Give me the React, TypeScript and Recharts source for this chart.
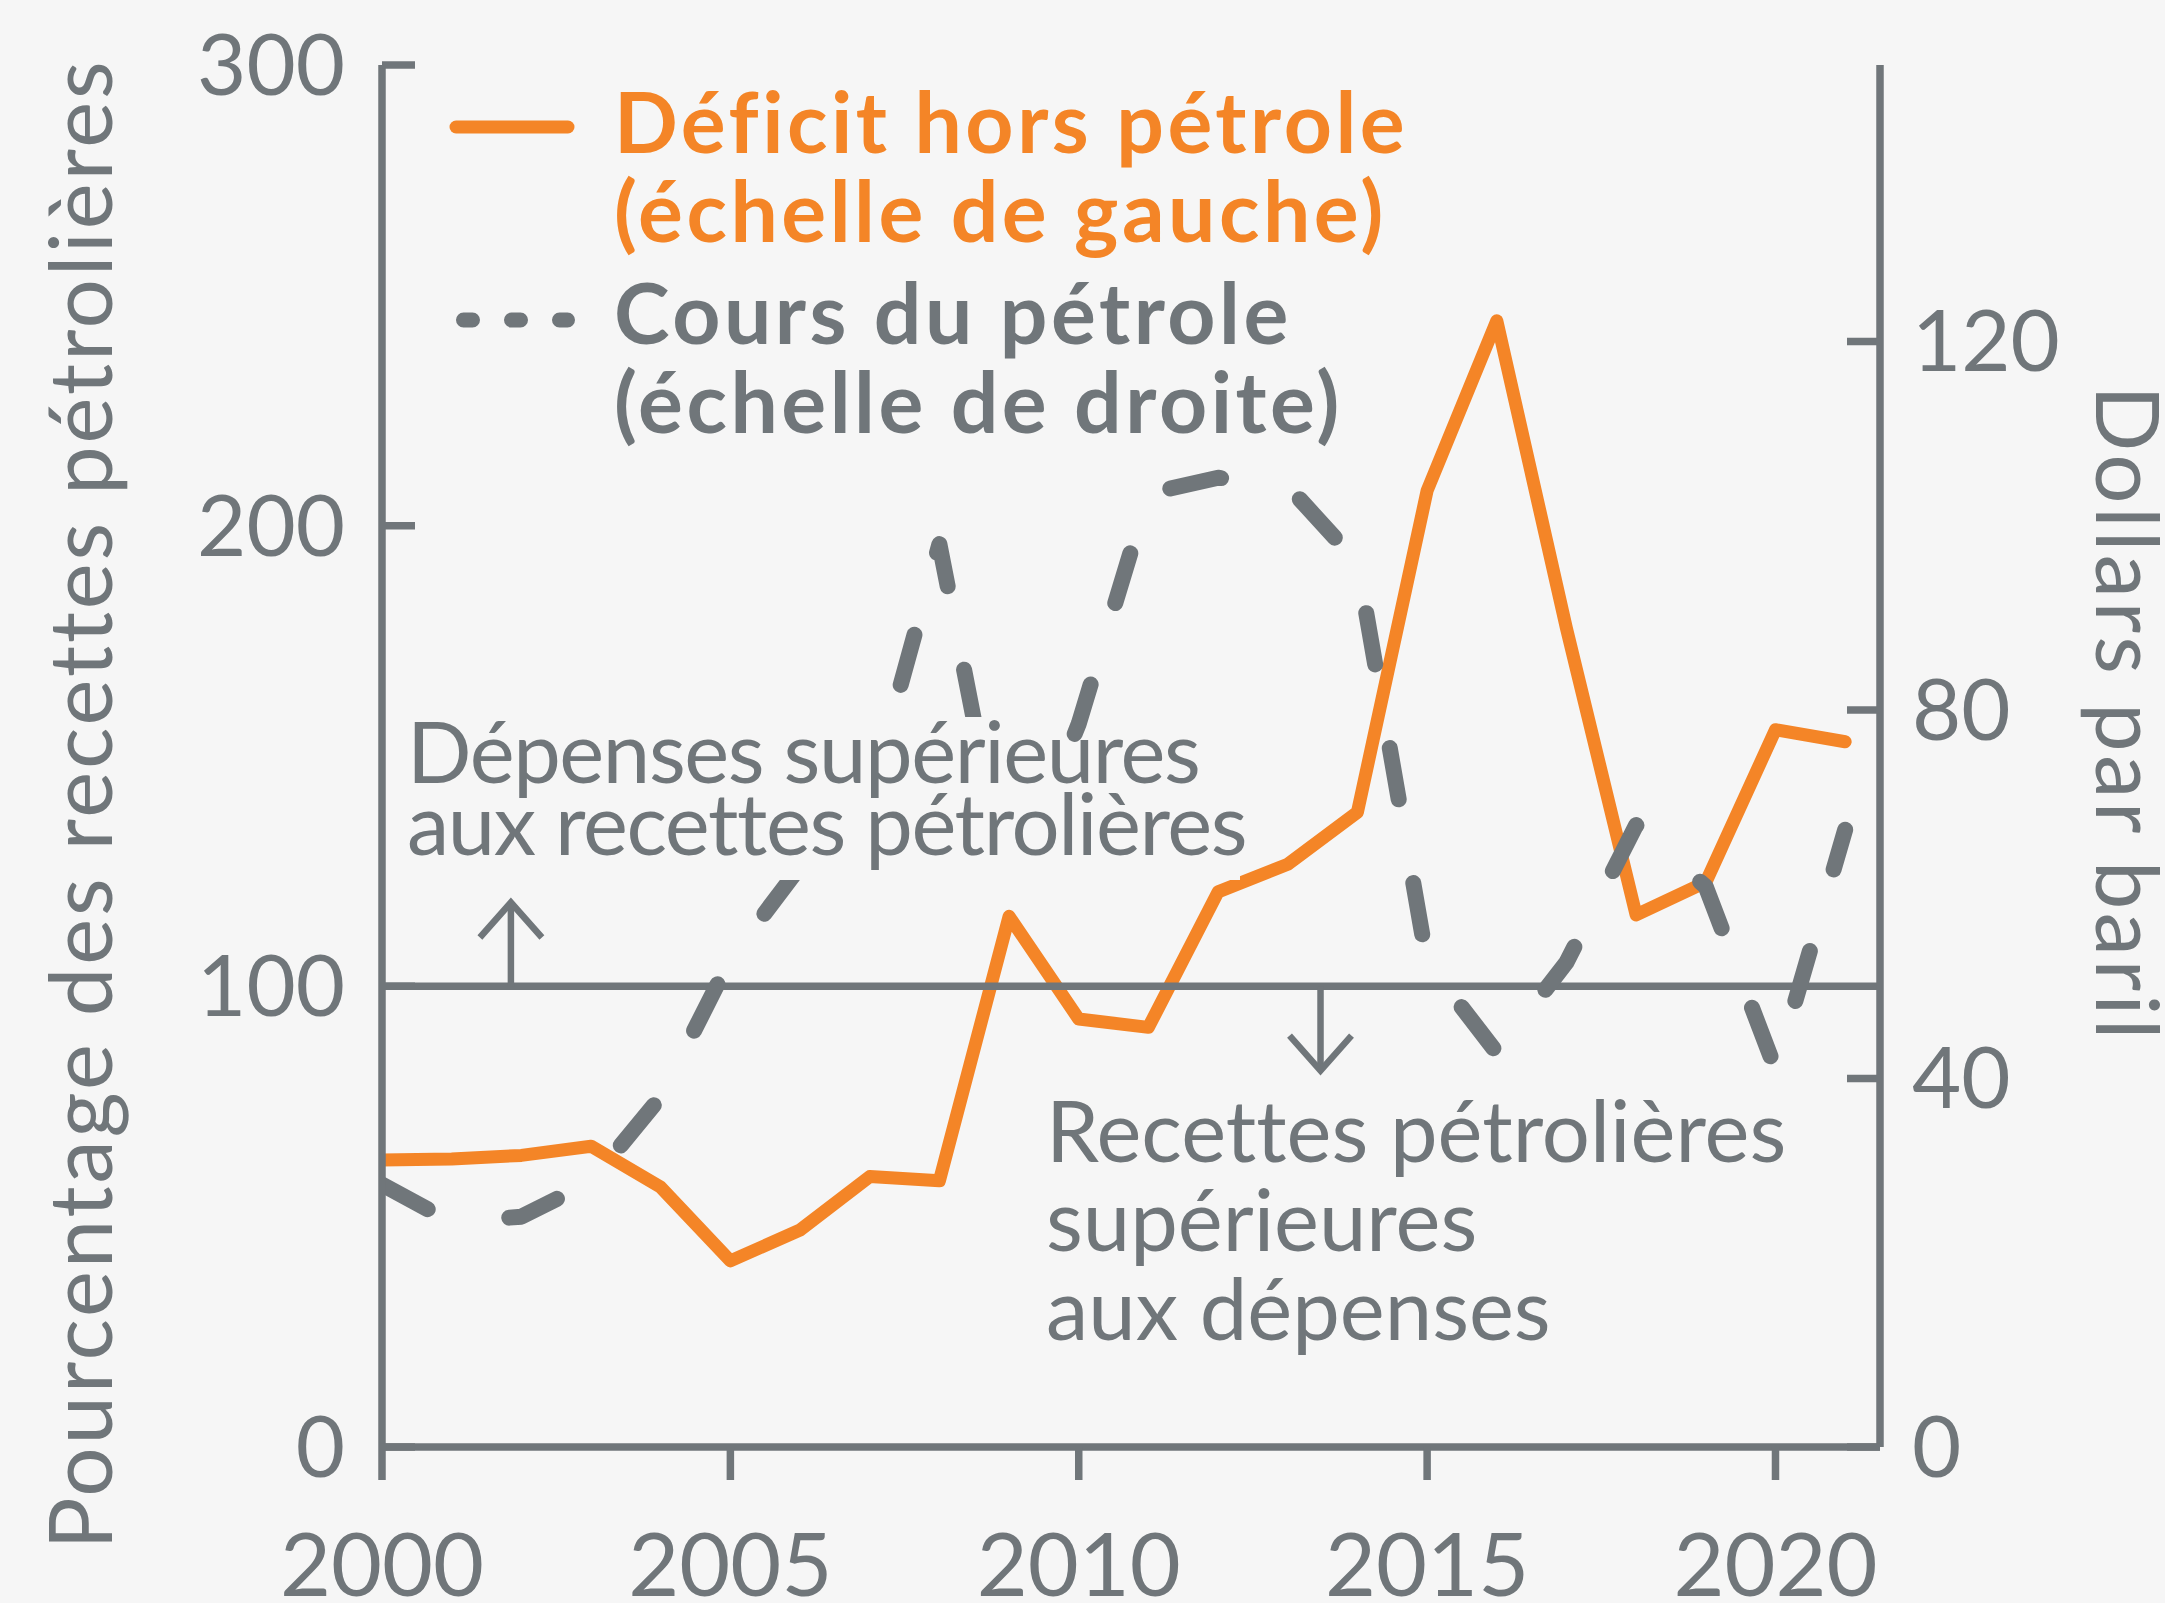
import React from 'react';
import { LineChart, Line, XAxis, YAxis, ReferenceLine, ReferenceDot, Legend } from 'recharts';

const years = [2000, 2001, 2002, 2003, 2004, 2005, 2006, 2007, 2008, 2009, 2010, 2011, 2012, 2013, 2014, 2015, 2016, 2017, 2018, 2019, 2020, 2021];
// non-oil deficit, % of oil revenue (left scale)
const deficit = [62.3, 62.5, 63.3, 65.3, 56.4, 40.4, 47.1, 58.7, 57.8, 115.2, 92.9, 91.1, 120.5, 126.5, 137.8, 207.6, 244.5, 177.7, 115.5, 122.6, 155.7, 153.1];
// oil price, dollars per barrel (right scale)
const oilPrice = [28.5, 24.4, 25.0, 28.8, 38.0, 53.0, 63.0, 70.5, 98.0, 59.5, 78.5, 103.5, 105.2, 104.3, 96.0, 52.6, 42.8, 52.6, 67.5, 60.8, 41.0, 67.0];

const leftTicks = [0, 100, 200, 300];
const rightTicks = [0, 40, 80, 120];
const yearTicks = [2000, 2005, 2010, 2015, 2020];

const arrowUp = { year: 2001.85, from: 100, to: 118.2 };
const arrowDown = { year: 2013.47, from: 100, to: 81.7 };

const GRAY = '#70767a';
const ORANGE = '#f48527';
const BG = '#f6f6f6';
const FONT = 'Lato, "Open Sans", sans-serif';

const data = years.map((year, i) => ({ year, deficit: deficit[i], oil: oilPrice[i] }));

const LeftTick = ({ x, y, payload }: any) => (
  <g>
    <line x1={x} x2={x + 33} y1={y} y2={y} stroke={GRAY} strokeWidth={7.5} />
    <text x={x - 37} y={y + 30} textAnchor="end" fill={GRAY} fontSize={85} fontFamily={FONT}>
      {payload.value}
    </text>
  </g>
);

const RightTick = ({ x, y, payload }: any) => (
  <g>
    <line x1={x - 33} x2={x} y1={y} y2={y} stroke={GRAY} strokeWidth={7.5} />
    <text x={x + 32} y={y + 30} textAnchor="start" fill={GRAY} fontSize={85} fontFamily={FONT}>
      {payload.value}
    </text>
  </g>
);

const YearTick = ({ x, y, payload }: any) => (
  <g>
    <line x1={x} x2={x} y1={y} y2={y + 33} stroke={GRAY} strokeWidth={7.5} />
    <text x={x} y={y + 149} textAnchor="middle" fill={GRAY} fontSize={88} fontFamily={FONT}>
      {payload.value}
    </text>
  </g>
);

const Chevron = ({ cx, cy, up }: any) => {
  const d = up ? 35 : -35;
  return (
    <polyline
      points={`${cx - 31},${cy + d} ${cx},${cy} ${cx + 31},${cy + d}`}
      fill="none"
      stroke={GRAY}
      strokeWidth={6.5}
    />
  );
};

const legendText: React.CSSProperties = {
  position: 'absolute',
  left: 614,
  whiteSpace: 'pre',
  fontFamily: FONT,
  fontWeight: 700,
  fontSize: 84,
  letterSpacing: 3.5,
  lineHeight: '89px',
  fontVariantLigatures: 'none',
};

const renderLegend = () => (
  <div style={{ position: 'relative', width: 1100, height: 460 }}>
    <svg width={700} height={400} style={{ position: 'absolute', left: 0, top: 0 }}>
      <line x1={456} x2={568} y1={127} y2={127} stroke={ORANGE} strokeWidth={13} strokeLinecap="round" />
      <line x1={463.5} x2={567.5} y1={320} y2={320} stroke={GRAY} strokeWidth={15} strokeLinecap="round" strokeDasharray="9 39" />
    </svg>
    <div style={{ ...legendText, top: 76, color: ORANGE }}>{'Déficit hors pétrole\n(échelle de gauche)'}</div>
    <div style={{ ...legendText, top: 267, color: GRAY }}>{'Cours du pétrole\n(échelle de droite)'}</div>
  </div>
);

const Note = ({ x, y, lines, leading, spacing }: any) => (
  <text x={x} y={y} fill={GRAY} fontSize={85} fontFamily={FONT} letterSpacing={spacing}
    style={{ fontVariantLigatures: 'none' }}>
    {lines.map((t: string, i: number) => (
      <tspan key={i} x={x} dy={i === 0 ? 0 : leading}>
        {t}
      </tspan>
    ))}
  </text>
);

export default function App() {
  return (
    <div style={{ position: 'absolute', left: 0, top: 0, width: 2165, height: 1603, background: BG, overflow: 'hidden' }}>
      <LineChart width={2165} height={1603} data={data} margin={{ top: 65, right: 284, left: 381, bottom: 155 }}>
        <XAxis
          dataKey="year"
          type="number"
          domain={[2000, 2021.5]}
          ticks={yearTicks}
          allowDataOverflow
          height={1}
          tickSize={0}
          tickMargin={0}
          tickLine={false}
          axisLine={{ stroke: GRAY, strokeWidth: 7.5 }}
          tick={<YearTick />}
        />
        <YAxis
          yAxisId="left"
          domain={[0, 300]}
          ticks={leftTicks}
          width={1}
          tickSize={0}
          tickMargin={0}
          tickLine={false}
          axisLine={{ stroke: GRAY, strokeWidth: 7.5 }}
          tick={<LeftTick />}
        />
        <YAxis
          yAxisId="right"
          orientation="right"
          domain={[0, 150]}
          ticks={rightTicks}
          width={1}
          tickSize={0}
          tickMargin={0}
          tickLine={false}
          axisLine={{ stroke: GRAY, strokeWidth: 7.5 }}
          tick={<RightTick />}
        />
        <Legend layout="vertical" align="center" verticalAlign="middle" content={renderLegend}
          wrapperStyle={{ top: 0, left: 0, width: 1100, height: 460 }} />
        <Line
          yAxisId="left"
          dataKey="deficit"
          name="Déficit hors pétrole"
          stroke={ORANGE}
          strokeWidth={13}
          strokeLinecap="round"
          strokeLinejoin="round"
          dot={false}
          activeDot={false}
          isAnimationActive={false}
        />
        <ReferenceLine yAxisId="left" y={100} stroke={GRAY} strokeWidth={7.5} />
        <ReferenceLine yAxisId="left" stroke={GRAY} strokeWidth={6.5}
          segment={[{ x: arrowUp.year, y: arrowUp.from }, { x: arrowUp.year, y: arrowUp.to }]} />
        <ReferenceLine yAxisId="left" stroke={GRAY} strokeWidth={6.5}
          segment={[{ x: arrowDown.year, y: arrowDown.from }, { x: arrowDown.year, y: arrowDown.to }]} />
        <ReferenceDot yAxisId="left" x={arrowUp.year} y={arrowUp.to} r={1}
          shape={(p: any) => <Chevron {...p} up />} />
        <ReferenceDot yAxisId="left" x={arrowDown.year} y={arrowDown.to} r={1}
          shape={(p: any) => <Chevron {...p} up={false} />} />
        <Line
          yAxisId="right"
          dataKey="oil"
          name="Cours du pétrole"
          stroke={GRAY}
          strokeWidth={16}
          strokeDasharray="52 85"
          strokeLinecap="round"
          strokeLinejoin="round"
          dot={false}
          activeDot={false}
          isAnimationActive={false}
        />
      </LineChart>

      <svg width={2165} height={1603} style={{ position: 'absolute', left: 0, top: 0, pointerEvents: 'none' }}>
        <text transform="translate(112, 804) rotate(-90)" textAnchor="middle" fill={GRAY} fontSize={87}
          fontFamily={FONT} letterSpacing={2.8}>
          Pourcentage des recettes pétrolières
        </text>
        <text transform="translate(2096, 714) rotate(90)" textAnchor="middle" fill={GRAY} fontSize={87}
          fontFamily={FONT} letterSpacing={3.4}>
          Dollars par baril
        </text>
        {/* background patches: the oil price line runs behind this note */}
        <rect x={404} y={717} width={626} height={85} fill={BG} />
        <rect x={1030} y={742} width={170} height={60} fill={BG} />
        <rect x={402} y={795} width={838} height={85} fill={BG} />
        <Note x={407} y={783} leading={72} spacing={-1.4}
          lines={['Dépenses supérieures', 'aux recettes pétrolières']} />
        <Note x={1046} y={1162} leading={89} spacing={0}
          lines={['Recettes pétrolières', 'supérieures', 'aux dépenses']} />
      </svg>
    </div>
  );
}
